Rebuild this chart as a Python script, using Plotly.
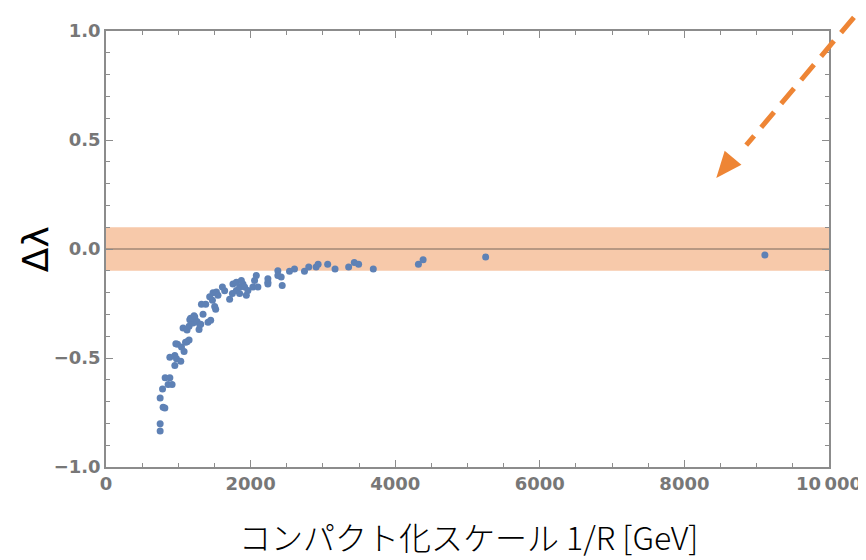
import plotly.graph_objects as go

# Compactification scale 1/R [GeV]
x_vals = [749, 749, 749, 790, 814, 782, 818, 883, 859, 914,
          883, 952, 975, 952, 1034, 989, 1044, 1121, 1149, 1066,
          1121, 1149, 1159, 1228, 1204, 1259, 1287, 1342, 1297, 1411,
          1448, 1320, 1379, 1472, 1503, 1517, 1434, 1480, 1527, 1549,
          1610, 1641, 1710, 1748, 1803, 1848, 1894, 1756, 1803, 1872,
          1917, 1941, 1963, 1848, 2032, 2101, 2055, 2079, 2239, 2239,
          2239, 2377, 2423, 2437, 2377, 2538, 2607, 2745, 2804, 2906,
          2934, 3066, 3168, 3356, 3434, 3494, 3697, 4321, 4386, 5251,
          9113, 966, 1100, 1170, 1218, 1310, 1080]
# Delta lambda
y_vals = [-0.835, -0.802, -0.684, -0.726, -0.729, -0.642, -0.591, -0.591, -0.621, -0.621,
          -0.497, -0.489, -0.504, -0.534, -0.515, -0.437, -0.449, -0.426, -0.417, -0.362,
          -0.372, -0.354, -0.324, -0.312, -0.339, -0.332, -0.369, -0.299, -0.347, -0.336,
          -0.327, -0.254, -0.254, -0.235, -0.264, -0.276, -0.219, -0.201, -0.197, -0.212,
          -0.174, -0.192, -0.231, -0.204, -0.190, -0.174, -0.160, -0.160, -0.152, -0.145,
          -0.174, -0.212, -0.190, -0.204, -0.174, -0.174, -0.145, -0.122, -0.152, -0.137,
          -0.160, -0.100, -0.129, -0.167, -0.122, -0.102, -0.092, -0.102, -0.082, -0.082,
          -0.070, -0.070, -0.092, -0.082, -0.062, -0.070, -0.092, -0.070, -0.049, -0.037,
          -0.028, -0.435, -0.428, -0.318, -0.306, -0.345, -0.470]

band_low, band_high = -0.1, 0.1

x_tickvals = [0, 2000, 4000, 6000, 8000, 10000]
x_ticktext = ["0", "2000", "4000", "6000", "8000", "10\u2009000"]
y_tickvals = [-1.0, -0.5, 0.0, 0.5, 1.0]
y_ticktext = ["\u22121.0", "\u22120.5", "0.0", "0.5", "1.0"]

axis_gray = "#8c8c8c"
label_gray = "#777777"

fig = go.Figure()
fig.add_trace(go.Scatter(
    x=x_vals, y=y_vals, mode="markers",
    marker=dict(size=7, color="#5e81b5", line=dict(width=0)),
    showlegend=False, hoverinfo="x+y"))

# shaded band and zero line
fig.add_shape(type="rect", xref="paper", yref="y", x0=0, x1=1, y0=band_low, y1=band_high,
              fillcolor="#f7c9aa", line=dict(width=0), layer="below")
fig.add_shape(type="line", xref="paper", yref="y", x0=0, x1=1, y0=0, y1=0,
              line=dict(color="rgba(140,120,105,0.8)", width=1.5), layer="below")

# dashed orange arrow (paper coordinates)
arrow_color = "#ee8535"
fig.add_shape(type="line", xref="paper", yref="paper",
              x0=1.0345, y0=1.0315, x1=0.8855, y1=0.7380,
              line=dict(color=arrow_color, width=5, dash="20px,11px"))
fig.add_shape(type="path", xref="paper", yref="paper",
              path="M 0.8441 0.6629 L 0.8557 0.7254 L 0.8789 0.6935 Z",
              fillcolor=arrow_color, line=dict(width=0))

tickfont = dict(family="DejaVu Sans, sans-serif", size=18, color=label_gray,
                weight="bold")

fig.update_xaxes(
    range=[0, 10000], showline=True, linecolor=axis_gray, linewidth=1.5, mirror="allticks",
    ticks="inside", ticklen=7, tickwidth=1.2, tickcolor=axis_gray,
    tickvals=x_tickvals, ticktext=x_ticktext, tickfont=tickfont,
    minor=dict(dtick=500, ticks="inside", ticklen=4, tickcolor=axis_gray, tickwidth=1),
    showgrid=False, zeroline=False)
fig.update_yaxes(
    range=[-1, 1], showline=True, linecolor=axis_gray, linewidth=1.5, mirror="allticks",
    ticks="inside", ticklen=7, tickwidth=1.2, tickcolor=axis_gray,
    tickvals=y_tickvals, ticktext=y_ticktext, tickfont=tickfont,
    minor=dict(dtick=0.1, ticks="inside", ticklen=4, tickcolor=axis_gray, tickwidth=1),
    showgrid=False, zeroline=False)

fig.add_annotation(text="\u0394\u03bb", xref="paper", yref="paper", x=-0.098, y=0.5,
                   textangle=-90, showarrow=False, xanchor="center", yanchor="middle",
                   font=dict(family="DejaVu Sans, sans-serif", size=36, color="black"))
fig.add_annotation(text="コンパクト化スケール 1/R [GeV]", xref="paper", yref="paper",
                   x=0.502, y=-0.159, showarrow=False, xanchor="center", yanchor="middle",
                   font=dict(family="Noto Sans CJK JP, sans-serif", size=32, color="black",
                             weight=300))

# the page body adds an 8px offset; margins compensate so the plot area matches
fig.update_layout(
    width=866, height=560, plot_bgcolor="white", paper_bgcolor="white",
    margin=dict(l=98, r=43, t=14, b=101), showlegend=False)

fig.write_html("out.html")
